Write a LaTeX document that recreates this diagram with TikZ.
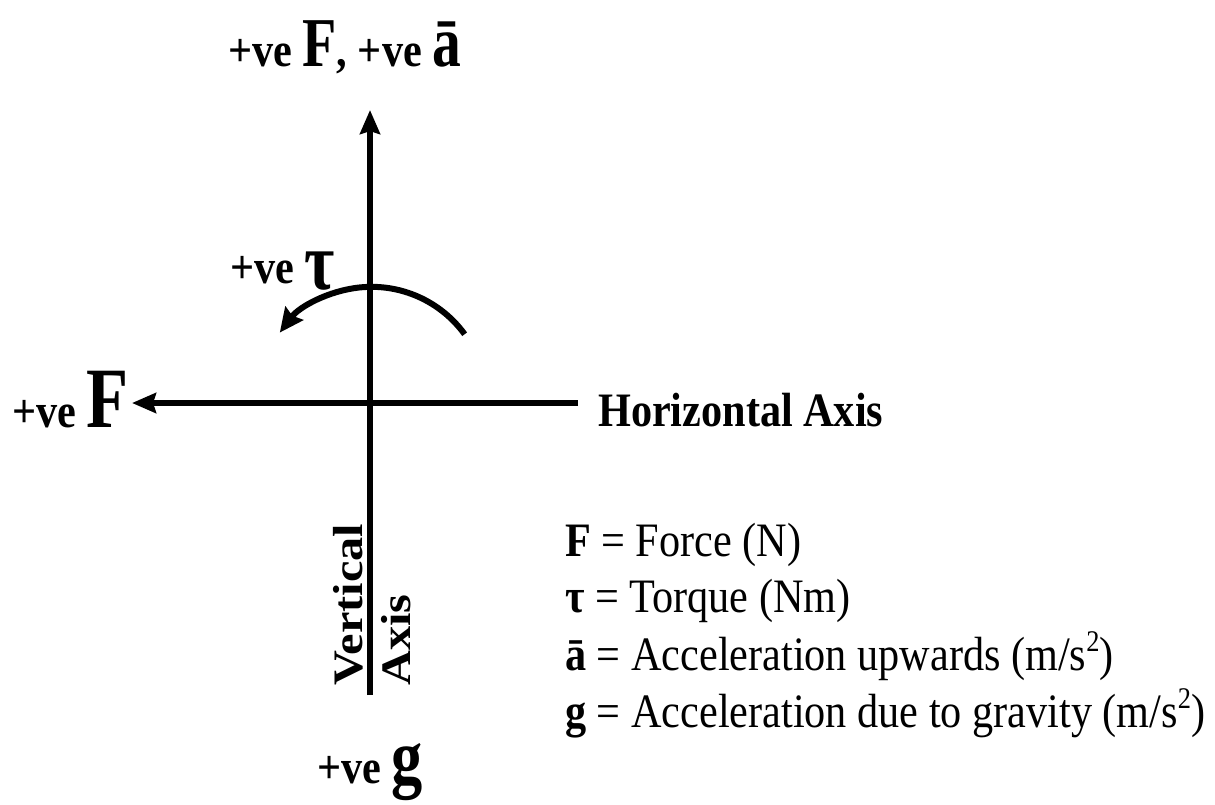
\documentclass[tikz,border=0pt]{standalone}
\usepackage{fontspec}
\setmainfont{Liberation Serif}[FakeStretch=0.88]
\newfontfamily\vfont{Liberation Serif}[FakeStretch=1.15]
\newfontfamily\bigfont{Liberation Serif}[FakeStretch=0.8]
\usetikzlibrary{arrows.meta}
\newcommand{\fs}[1]{\fontsize{#1}{#1}\selectfont}
\newcommand{\bigsym}[2]{{\bigfont\bfseries\fs{#1}#2}}
\newcommand{\sqr}{\raisebox{0.38em}{\fs{30}2}}
\begin{document}
\begin{tikzpicture}[x=1pt,y=-1pt,
  axis/.style={line width=6pt, -{Stealth[length=24pt,width=20pt,inset=3pt]}},
  torquearrow/.style={line width=6pt, -{Stealth[length=24pt,width=22pt,inset=3pt]}},
  lbl/.style={inner sep=0pt, anchor=base west, font=\bfseries\fs{48}},
  leg/.style={inner sep=0pt, anchor=base west, font=\fs{48}},
  vlbl/.style={inner sep=0pt, anchor=base west, rotate=90, font=\vfont\bfseries\fs{42}}]
\useasboundingbox (0,0) rectangle (1215,804);
\coordinate (O) at (370,403);
\coordinate (vtop) at (370,110);
\coordinate (vbot) at (370,695);
\coordinate (hleft) at (132,403);
\coordinate (hright) at (578,403);
\draw[axis] (vbot) -- (vtop);
\draw[axis] (hright) -- (hleft);
\draw[torquearrow] ([shift={(-36:117)}]O) arc[start angle=-36, end angle=-143, radius=115];
\node[lbl] (topl) at (228,66) {+ve \bigsym{70}{F}, +ve \bigsym{72}{ā}};
\node[lbl] (leftl) at (12,427) {+ve \bigsym{86}{F}};
\node[lbl] (taul) at (230,283) {+ve \raisebox{-6pt}{\bigsym{82}{τ}}};
\node[lbl] (gl) at (317,783) {+ve \bigsym{78}{g}};
\node[lbl] (hl) at (598,426) {Horizontal Axis};
\node[leg] (l1) at (565,556) {\textbf{F} = Force (N)};
\node[leg] (l2) at (565,612) {\textbf{τ} = Torque (Nm)};
\node[leg] (l3) at (565,670) {\textbf{ā} = Acceleration upwards (m/s\sqr)};
\node[leg] (l4) at (565,727) {\textbf{g} = Acceleration due to gravity (m/s\sqr)};
\node[vlbl] (vl1) at (362,686) {Vertical};
\node[vlbl] (vl2) at (410,686) {Axis};
\end{tikzpicture}
\end{document}
